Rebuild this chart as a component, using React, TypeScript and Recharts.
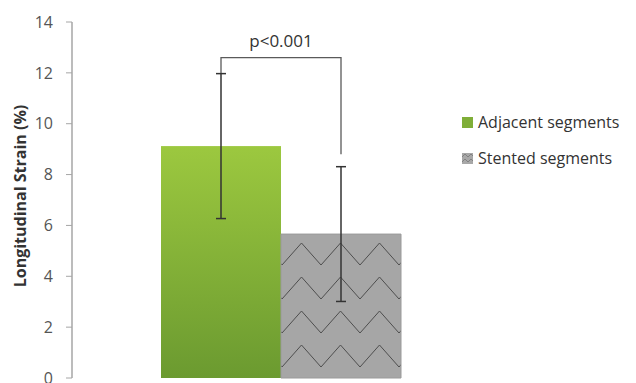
import React from 'react';
import { BarChart, Bar, XAxis, YAxis, ErrorBar, Legend } from 'recharts';

// one group, two series
const categories = ['Strain'];
const seriesNames = ['Adjacent segments', 'Stented segments'];
const adjacentMean = [9.12];
const adjacentSd = [2.85];
const stentedMean = [5.66];
const stentedSd = [2.65];
const yTicks = [0, 2, 4, 6, 8, 10, 12, 14];

// significance bracket
const pLabel = 'p<0.001';
const bracketLevel = 12.6;
const bracketRightEnd = 8.8;

const chartData = categories.map((name, i) => ({
    name,
    adjacent: adjacentMean[i],
    adjacentSd: adjacentSd[i],
    stented: stentedMean[i],
    stentedSd: stentedSd[i],
}));

const FONT = '"Open Sans", sans-serif';

// green bar + bracket drawn over it
function AdjacentShape(props: any) {
    const { x, y, width, height, payload } = props;
    const ppu = height / payload.adjacent;
    const base = y + height;
    const cx1 = x + width / 2;
    const cx2 = x + width * 1.5;
    const top = base - bracketLevel * ppu;
    const leftEnd = base - (payload.adjacent + payload.adjacentSd) * ppu;
    const rightEnd = base - bracketRightEnd * ppu;
    return (
        <g>
            <rect x={x} y={y} width={width} height={height} fill="url(#greenGrad)" />
            <path d={`M${cx1},${leftEnd} L${cx1},${top} L${cx2},${top} L${cx2},${rightEnd}`}
                fill="none" stroke="#5a5a5a" strokeWidth={1.3} />
            <text x={(cx1 + cx2) / 2} y={top - 11} textAnchor="middle" fontSize={17}
                fontFamily={FONT} fill="#333">{pLabel}</text>
        </g>
    );
}

function renderLegend() {
    return (
        <div style={{ fontFamily: FONT, fontSize: 16, color: '#333' }}>
            {seriesNames.map((s, i) => (
                <div key={s} style={{ display: 'flex', alignItems: 'center', height: 20, marginBottom: 16 }}>
                    <svg width={11} height={11} style={{ marginRight: 5 }}>
                        <rect width={11} height={11} fill={i === 0 ? '#7fae38' : 'url(#zigSmall)'} />
                    </svg>
                    <span>{s}</span>
                </div>
            ))}
        </div>
    );
}

export default function App() {
    return (
        <div style={{ position: 'absolute', left: 0, top: 0, background: '#fff' }}>
            <svg width={0} height={0} style={{ position: 'absolute' }}>
                <defs>
                    <pattern id="zigSmall" patternUnits="userSpaceOnUse" width={6} height={5}>
                        <rect width={6} height={5} fill="#a8a8a8" />
                        <path d="M0,4 L3,1 L6,4" fill="none" stroke="#777" strokeWidth={0.8} />
                    </pattern>
                </defs>
            </svg>
            <BarChart width={636} height={383} data={chartData}
                margin={{ top: 22, right: 147, bottom: 5, left: 0 }}
                barCategoryGap={89} barGap={0}>
                <defs>
                    <linearGradient id="greenGrad" x1="0" y1="0" x2="0" y2="1">
                        <stop offset="0%" stopColor="#9cc83f" />
                        <stop offset="100%" stopColor="#6b9a30" />
                    </linearGradient>
                    <pattern id="zig" patternUnits="userSpaceOnUse" x={282} y={241} width={39} height={34}>
                        <rect width={39} height={34} fill="#a6a6a6" />
                        <path d="M0,24 L19.5,2 L39,24" fill="none" stroke="#4d4d4d" strokeWidth={1} />
                    </pattern>
                </defs>
                <XAxis dataKey="name" tick={false} tickLine={false} height={0}
                    axisLine={{ stroke: '#a6a6a6', strokeWidth: 1.5 }} />
                <YAxis domain={[0, 14]} ticks={yTicks} width={72} interval={0}
                    tickSize={6} tickMargin={13}
                    tick={{ fontSize: 16, fill: '#555', fontFamily: FONT }}
                    tickLine={{ stroke: '#a6a6a6' }}
                    axisLine={{ stroke: '#a6a6a6', strokeWidth: 1.5 }}
                    label={() => (
                        <text x={20} y={196} transform="rotate(-90 20 196)" textAnchor="middle"
                            dominantBaseline="central" fontSize={16} fontWeight="bold"
                            fontFamily={FONT} fill="#333">Longitudinal Strain (%)</text>
                    )} />
                <Legend content={renderLegend} layout="horizontal" verticalAlign="middle" align="center"
                    wrapperStyle={{ left: 462, top: 112, width: 174 }} />
                <Bar dataKey="adjacent" name={seriesNames[0]} shape={AdjacentShape} isAnimationActive={false}>
                    <ErrorBar dataKey="adjacentSd" width={5} stroke="#333" strokeWidth={1.5} direction="y" isAnimationActive={false} />
                </Bar>
                <Bar dataKey="stented" name={seriesNames[1]} fill="url(#zig)" stroke="#9a9a9a" isAnimationActive={false}>
                    <ErrorBar dataKey="stentedSd" width={5} stroke="#333" strokeWidth={1.5} direction="y" isAnimationActive={false} />
                </Bar>
            </BarChart>
        </div>
    );
}
